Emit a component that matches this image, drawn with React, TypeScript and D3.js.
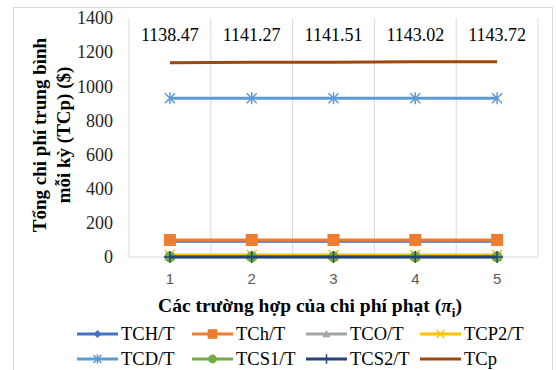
import React from "react";
import * as d3 from "d3";

const categories = ["1", "2", "3", "4", "5"];
const yTicks = [0, 200, 400, 600, 800, 1000, 1200, 1400];
const TCH_T = [92, 92, 92, 92, 92];
const TCh_T = [100, 100, 100, 100, 100];
const TCO_T = [5, 5, 5, 5, 5];
const TCP2_T = [12, 12, 12, 12, 12];
const TCD_T = [930, 930, 930, 930, 930];
const TCS1_T = [1, 1, 1, 1, 1];
const TCS2_T = [0, 0, 0, 0, 0];
const TCp = [1138.47, 1141.27, 1141.51, 1143.02, 1143.72];
const TCpLabels = ["1138.47", "1141.27", "1141.51", "1143.02", "1143.72"];

type S = { name: string; values: number[]; color: string; marker: string };
const series: S[] = [
  { name: "TCH/T", values: TCH_T, color: "#4472C4", marker: "diamond" },
  { name: "TCh/T", values: TCh_T, color: "#ED7D31", marker: "square" },
  { name: "TCO/T", values: TCO_T, color: "#A5A5A5", marker: "triangle" },
  { name: "TCP2/T", values: TCP2_T, color: "#FFC000", marker: "x" },
  { name: "TCD/T", values: TCD_T, color: "#5B9BD5", marker: "star" },
  { name: "TCS1/T", values: TCS1_T, color: "#70AD47", marker: "circle" },
  { name: "TCS2/T", values: TCS2_T, color: "#264478", marker: "plus" },
  { name: "TCp", values: TCp, color: "#9E480E", marker: "none" },
];
const drawOrder = [4, 7, 2, 3, 5, 0, 1, 6];

const serif = "Liberation Serif, DejaVu Serif, serif";
const sans = "Liberation Sans, DejaVu Sans, sans-serif";

function Marker({ type, x, y, color, big }: { type: string; x: number; y: number; color: string; big?: boolean }) {
  const s = big ? 1 : 0.8;
  switch (type) {
    case "diamond":
      return <path d={`M${x},${y - 5 * s}L${x + 5 * s},${y}L${x},${y + 5 * s}L${x - 5 * s},${y}Z`} fill={color} />;
    case "square":
      return <rect x={x - 6 * s} y={y - 6 * s} width={12 * s} height={12 * s} fill={color} />;
    case "triangle":
      return <path d={`M${x},${y - 5 * s}L${x + 5 * s},${y + 4 * s}L${x - 5 * s},${y + 4 * s}Z`} fill={color} />;
    case "x":
      return (
        <path d={`M${x - 5 * s},${y - 5 * s}L${x + 5 * s},${y + 5 * s}M${x + 5 * s},${y - 5 * s}L${x - 5 * s},${y + 5 * s}`} stroke={color} strokeWidth={1.5} />
      );
    case "star":
      return (
        <path
          d={`M${x - 5 * s},${y - 5 * s}L${x + 5 * s},${y + 5 * s}M${x + 5 * s},${y - 5 * s}L${x - 5 * s},${y + 5 * s}M${x},${y - 6 * s}L${x},${y + 6 * s}`}
          stroke={color}
          strokeWidth={1.5}
        />
      );
    case "circle":
      return <circle cx={x} cy={y} r={5.5 * s} fill={color} />;
    case "plus":
      return <path d={`M${x - 6 * s},${y}L${x + 6 * s},${y}M${x},${y - 6 * s}L${x},${y + 6 * s}`} stroke={color} strokeWidth={1.5} />;
    default:
      return null;
  }
}

export default function App() {
  const W = 556, H = 370;
  const left = 129, right = 538, top = 18, bottom = 257;
  const x = d3.scaleBand<string>().domain(categories).range([left, right]);
  const y = d3.scaleLinear().domain([0, 1400]).range([bottom, top]);
  const cx = (c: string) => (x(c) as number) + x.bandwidth() / 2;
  const line = d3
    .line<number>()
    .x((_, i) => cx(categories[i]))
    .y((d) => y(d));

  const boundaries = [...categories.map((c) => x(c) as number), right];

  const legendCols = [77, 192, 306, 420];
  const legendRows = [334, 359];

  return (
    <svg width={W} height={H} style={{ position: "absolute", left: 0, top: 0, background: "#fff" }}>
      <rect x={13.5} y={7.5} width={539} height={380} fill="#fff" stroke="#D9D9D9" />
      {boundaries.map((b, i) => (
        <line key={i} x1={b} x2={b} y1={top} y2={bottom} stroke="#D9D9D9" strokeWidth={1} />
      ))}
      <line x1={left} x2={right} y1={bottom} y2={bottom} stroke="#D9D9D9" strokeWidth={1} />
      {yTicks.map((t) => (
        <text key={t} x={113} y={y(t)} dy="0.35em" textAnchor="end" style={{ fontFamily: serif }} fontSize={18} fill="#262626">
          {t}
        </text>
      ))}
      {categories.map((c) => (
        <text key={c} x={cx(c)} y={279} dy="0.35em" textAnchor="middle" style={{ fontFamily: sans }} fontSize={15} fill="#595959">
          {c}
        </text>
      ))}
      {drawOrder.map((si) => {
        const s = series[si];
        return (
          <g key={s.name}>
            <path d={line(s.values) || ""} fill="none" stroke={s.color} strokeWidth={3} />
            {s.values.map((v, i) => (
              <Marker key={i} type={s.marker} x={cx(categories[i])} y={y(v)} color={s.color} big />
            ))}
          </g>
        );
      })}
      {TCpLabels.map((l, i) => (
        <text key={i} x={cx(categories[i])} y={35} dy="0.35em" textAnchor="middle" style={{ fontFamily: serif }} fontSize={18} fill="#000">
          {l}
        </text>
      ))}
      <g transform="translate(39,135) rotate(-90)">
        <text x={0} y={0} dy="0.35em" textAnchor="middle" style={{ fontFamily: serif }} fontWeight="bold" fontSize={19} fill="#000">
          Tổng chi phí trung bình
        </text>
        <text x={0} y={24} dy="0.35em" textAnchor="middle" style={{ fontFamily: serif }} fontWeight="bold" fontSize={19} fill="#000">
          mỗi kỳ (TCp) ($)
        </text>
      </g>
      <text x={310} y={305} dy="0.35em" textAnchor="middle" style={{ fontFamily: serif }} fontWeight="bold" fontSize={19.5} fill="#000">
        Các trường hợp của chi phí phạt (<tspan fontStyle="italic">π</tspan>
        <tspan fontSize={13} dy={5}>i</tspan>
        <tspan dy={-5}>)</tspan>
      </text>
      {series.map((s, i) => {
        const lx = legendCols[i % 4];
        const ly = legendRows[Math.floor(i / 4)];
        return (
          <g key={s.name}>
            <line x1={lx} x2={lx + 41} y1={ly} y2={ly} stroke={s.color} strokeWidth={3} />
            <Marker type={s.marker} x={lx + 20.5} y={ly} color={s.color} />
            <text x={lx + 44} y={ly} dy="0.35em" style={{ fontFamily: serif }} fontSize={18.5} fill="#000">
              {s.name}
            </text>
          </g>
        );
      })}
    </svg>
  );
}
